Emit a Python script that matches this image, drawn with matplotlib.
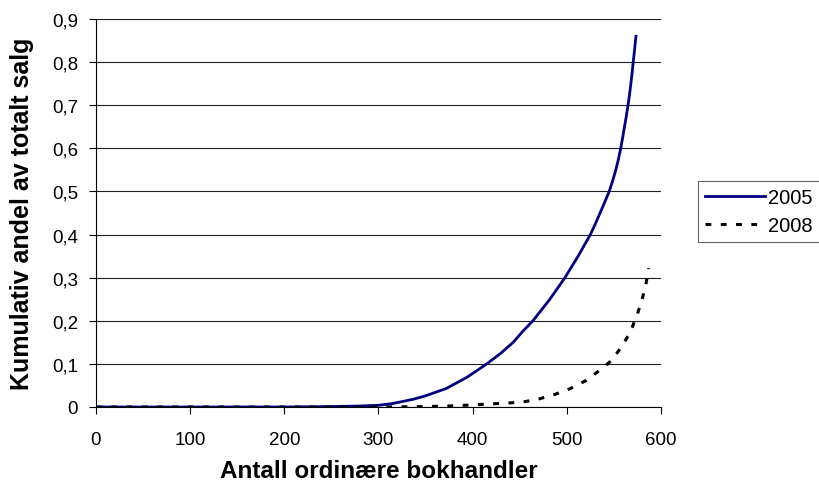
import matplotlib.pyplot as plt
from matplotlib.ticker import FuncFormatter

plt.rcParams['font.family'] = ['Liberation Sans', 'DejaVu Sans']

# Kumulativ andel, 2005
x_2005 = [0, 100, 200, 248, 275, 300, 315, 337, 350, 372, 394, 415, 430,
          443, 453, 464, 473, 482, 490, 498, 505, 512, 518.5, 525, 530.3,
          535.3, 540.2, 545, 548.7, 552, 554.8, 557.2, 559.3, 561.2, 563.2,
          565, 566.6, 568, 569.3, 570.5, 572, 573.4]
y_2005 = [0, 0, 0, 0.001, 0.002, 0.004, 0.008, 0.018, 0.026, 0.043, 0.069,
          0.1, 0.125, 0.15, 0.175, 0.2, 0.225, 0.25, 0.275, 0.3, 0.325,
          0.35, 0.375, 0.4, 0.425, 0.45, 0.475, 0.5, 0.525, 0.55, 0.575,
          0.6, 0.625, 0.65, 0.675, 0.7, 0.725, 0.75, 0.775, 0.8, 0.83, 0.86]

# Kumulativ andel, 2008
x_2008 = [0, 100, 200, 300, 351, 383, 418, 452, 471, 487, 504, 520, 533,
          547, 559, 568, 575, 580, 584, 587]
y_2008 = [0, 0, 0, 0, 0.001, 0.003, 0.007, 0.011, 0.019, 0.029, 0.043,
          0.061, 0.082, 0.107, 0.142, 0.177, 0.216, 0.25, 0.285, 0.322]

x_ticks = [0, 100, 200, 300, 400, 500, 600]
y_ticks = [0, 0.1, 0.2, 0.3, 0.4, 0.5, 0.6, 0.7, 0.8, 0.9]

fig = plt.figure(figsize=(8.2, 4.85), dpi=100)
ax = fig.add_axes([96 / 820, 77 / 485, 565 / 820, 388 / 485])

ax.plot(x_2005, y_2005, color='#000080', lw=2.0, label='2005')
ax.plot(x_2008, y_2008, color='black', lw=2.2, linestyle=(0, (1.9, 3.1)),
        label='2008')

ax.set_xlim(0, 600)
ax.set_ylim(0, 0.9)
ax.set_xticks(x_ticks)
ax.set_yticks(y_ticks)
ax.yaxis.set_major_formatter(FuncFormatter(
    lambda v, p: '0' if v == 0 else f'{v:.1f}'.replace('.', ',')))

ax.grid(axis='y', color='#202020', lw=0.8)
ax.set_axisbelow(True)
for s in ['top', 'right']:
    ax.spines[s].set_visible(False)
ax.spines['left'].set_linewidth(0.8)
ax.spines['bottom'].set_linewidth(0.8)
ax.tick_params(direction='out', length=5, width=0.8, labelsize=13.5)
ax.tick_params(axis='x', pad=12)
ax.tick_params(axis='y', pad=8)

ax.set_xlabel('Antall ordinære bokhandler', fontsize=17.5, fontweight='bold',
              labelpad=8)
ax.set_ylabel('Kumulativ andel av totalt salg', fontsize=18, fontweight='bold',
              labelpad=13)

leg = fig.legend(loc='upper left', bbox_to_anchor=(698 / 820, 1 - 182 / 485),
                 fontsize=14.5, frameon=True, fancybox=False,
                 handlelength=3.0, handletextpad=0.15, borderpad=0.35,
                 labelspacing=0.45, borderaxespad=0)
leg.get_frame().set_edgecolor('#404040')
leg.get_frame().set_linewidth(0.8)

fig.savefig('out.png', dpi=100)
